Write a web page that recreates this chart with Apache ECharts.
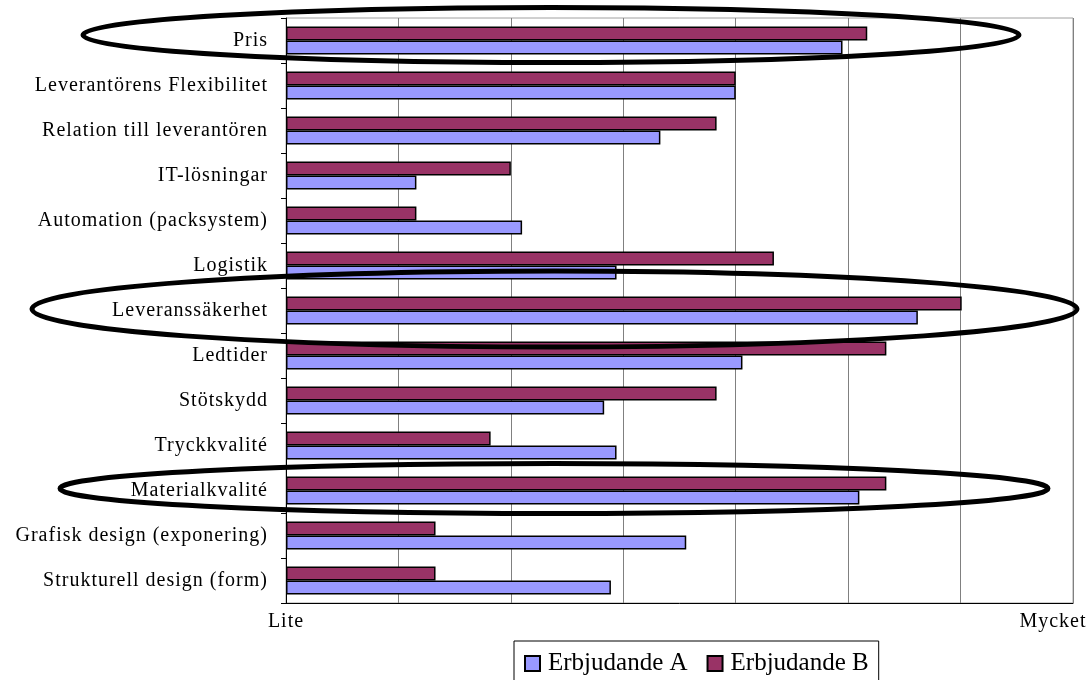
<!DOCTYPE html>
<html>
<head>
<meta charset="utf-8">
<style>
  html, body { margin: 0; padding: 0; background: #fff; }
  #chart { width: 1088px; height: 680px; }
</style>
<script src="https://cdn.jsdelivr.net/npm/echarts@6/dist/echarts.min.js"></script>
</head>
<body>
<div id="chart"></div>
<script>
// Rated importance of each packaging attribute, per offer (scale Lite .. Mycket)
const categories = [
  'Pris',
  'Leverantörens Flexibilitet',
  'Relation till leverantören',
  'IT-lösningar',
  'Automation (packsystem)',
  'Logistik',
  'Leveranssäkerhet',
  'Ledtider',
  'Stötskydd',
  'Tryckkvalité',
  'Materialkvalité',
  'Grafisk design (exponering)',
  'Strukturell design (form)'
];
const offerA = [4.95, 4.00, 3.33, 1.16, 2.10, 2.94, 5.62, 4.06, 2.83, 2.94, 5.10, 3.56, 2.89];
const offerB = [5.17, 4.00, 3.83, 2.00, 1.16, 4.34, 6.01, 5.34, 3.83, 1.82, 5.34, 1.33, 1.33];
const seriesNames = ['Erbjudande A', 'Erbjudande B'];
const scaleLabels = { min: 'Lite', max: 'Mycket' };
const scaleMin = 0;
const scaleMax = 7;

// Attributes circled as the most important ones
const highlighted = [
  { name: 'Pris',             cx: 551,   rx: 468,   dy: -5.5, ry: 27.5 },
  { name: 'Leveranssäkerhet', cx: 554.5, rx: 522.5, dy: -1.5, ry: 38 },
  { name: 'Materialkvalité',  cx: 554,   rx: 494,   dy: -2,   ry: 25 }
];

// Axis labels are drawn with slightly open letter spacing; everything else without
const spaced = new Set(categories.concat([scaleLabels.min, scaleLabels.max]));
(function () {
  const proto = CanvasRenderingContext2D.prototype;
  const fill = proto.fillText;
  proto.fillText = function (text) {
    if ('letterSpacing' in this) {
      const font = this.font;
      this.letterSpacing = spaced.has(String(text)) ? '1px' : '0px';
      this.font = font;
    }
    const r = fill.apply(this, arguments);
    if ('letterSpacing' in this) this.letterSpacing = '0px';
    return r;
  };
})();

const serif = "'Liberation Serif', 'Times New Roman', serif";
const chart = echarts.init(document.getElementById('chart'), null, { renderer: 'canvas' });

const barStyle = { borderColor: '#000', borderWidth: 1.5 };

const option = {
  animation: false,
  backgroundColor: '#ffffff',
  grid: {
    left: 286, right: 15, top: 18, bottom: 77,
    show: true, borderColor: '#a0a0a0', borderWidth: 1
  },
  legend: {
    data: seriesNames,
    left: 514, top: 641,
    orient: 'horizontal',
    icon: 'rect',
    itemWidth: 15, itemHeight: 15, itemGap: 19,
    padding: [10, 10, 10, 10],
    borderColor: '#000', borderWidth: 1,
    textStyle: { fontFamily: serif, fontSize: 25, color: '#000', padding: [0, 0, 0, 3] }
  },
  xAxis: {
    type: 'value',
    min: scaleMin, max: scaleMax, interval: 1,
    axisLine: { show: true, lineStyle: { color: '#000', width: 1 } },
    axisTick: { show: false },
    splitLine: { show: true, lineStyle: { color: '#808080', width: 1 } },
    axisLabel: {
      margin: 9,
      formatter: function (v) {
        if (v === scaleMin) return scaleLabels.min;
        if (v === scaleMax) return '{mx|' + scaleLabels.max + '}';
        return '';
      },
      fontFamily: serif, fontSize: 20, color: '#000',
      rich: { mx: { fontFamily: serif, fontSize: 20, color: '#000', padding: [0, 40, 0, 0] } }
    }
  },
  yAxis: {
    type: 'category',
    data: categories,
    inverse: true,
    axisLine: { show: true, lineStyle: { color: '#000', width: 1 } },
    axisTick: { show: true, length: 5, inside: false, lineStyle: { color: '#000' } },
    splitLine: { show: false },
    axisLabel: { margin: 18, fontFamily: serif, fontSize: 20, color: '#000', interval: 0 }
  },
  // B is listed first so its bar sits above A inside each row
  series: [
    {
      name: seriesNames[1], type: 'bar', data: offerB,
      barWidth: 14, barGap: '0%',
      itemStyle: Object.assign({ color: '#993366' }, barStyle)
    },
    {
      name: seriesNames[0], type: 'bar', data: offerA,
      barWidth: 14, barGap: '0%',
      itemStyle: Object.assign({ color: '#9999ff' }, barStyle)
    }
  ]
};

chart.setOption(option);

// Outline the highlighted attributes with ellipses centred on their category rows
const ellipses = highlighted.map(function (h) {
  const cy = chart.convertToPixel({ yAxisIndex: 0 }, h.name);
  return {
    type: 'ellipse',
    z: 100,
    silent: true,
    shape: { cx: h.cx, cy: cy + h.dy, rx: h.rx, ry: h.ry },
    style: { fill: null, stroke: '#000', lineWidth: 5 }
  };
});
chart.setOption({ graphic: ellipses });
</script>
</body>
</html>
